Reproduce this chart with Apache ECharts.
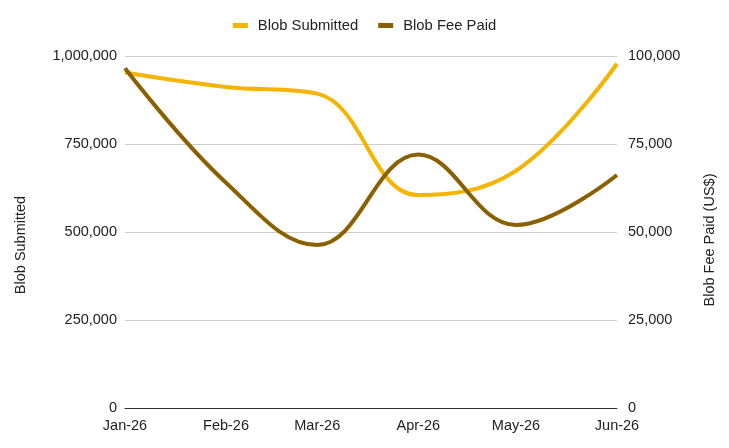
<!DOCTYPE html>
<html>
<head>
<meta charset="utf-8">
<script src="https://cdn.jsdelivr.net/npm/echarts@6/dist/echarts.min.js"></script>
<style>
html,body{margin:0;padding:0;background:#fff;}
#c{width:729px;height:448px;}
</style>
</head>
<body>
<div id="c"></div>
<script>
var months = ['Jan-26','Feb-26','Mar-26','Apr-26','May-26','Jun-26'];
var monthIndex = [0,1,2,3,4,5];
var blobSubmitted = [953000, 912000, 893000, 605000, 674000, 978000];
var blobFeePaid = [96500, 64000, 46300, 72000, 52000, 66200];
var leftTicks = [0, 250000, 500000, 750000, 1000000];
var rightTicks = [0, 25000, 50000, 75000, 100000];

var DAY = 86400000;
var t0 = Date.UTC(2026, 0, 1);
var days = monthIndex.map(function(m){ return Math.round((Date.UTC(2026, m, 1) - t0) / DAY); });
function pairs(vals){ return vals.map(function(v,i){ return [days[i], v]; }); }
function fmtNum(v){ return String(Math.round(v)).replace(/\B(?=(\d{3})+(?!\d))/g, ','); }
function fmtMonth(v){
  var idx = days.indexOf(Math.round(v));
  return idx >= 0 ? months[idx] : '';
}
var font = 'Arial, "Liberation Sans", sans-serif';
var fs = 14.5;
var chart = echarts.init(document.getElementById('c'));
chart.setOption({
  animation: false,
  textStyle: { fontFamily: font },
  legend: {
    top: 13, left: 'center', itemWidth: 15, itemHeight: 5, itemGap: 20,
    icon: 'rect',
    textStyle: { fontSize: 14.8, color: '#222', fontFamily: font, padding: [0, 0, 0, 5] },
    data: ['Blob Submitted', 'Blob Fee Paid']
  },
  grid: { left: 125, right: 112, top: 56, bottom: 40 },
  xAxis: {
    type: 'value',
    min: days[0], max: days[days.length-1],
    axisLine: { show: true, onZero: false, lineStyle: { color: '#333', width: 1 } },
    axisTick: { show: false },
    splitLine: { show: false },
    axisLabel: {
      customValues: days,
      formatter: fmtMonth,
      color: '#222', fontSize: fs, margin: 10, fontFamily: font,
      showMinLabel: true, showMaxLabel: true
    }
  },
  yAxis: [
    {
      type: 'value', min: 0, max: 1000000, interval: 250000,
      name: 'Blob Submitted', nameLocation: 'middle', nameGap: 97,
      nameTextStyle: { fontSize: fs, color: '#222', fontFamily: font, padding: [0, 26, 0, 0] },
      axisLine: { show: false }, axisTick: { show: false },
      splitLine: { show: true, lineStyle: { color: '#cccccc', width: 1 } },
      axisLabel: { formatter: fmtNum, color: '#222', fontSize: fs, margin: 8, fontFamily: font }
    },
    {
      type: 'value', min: 0, max: 100000, interval: 25000,
      name: 'Blob Fee Paid (US$)', nameLocation: 'middle', nameGap: 85,
      nameTextStyle: { fontSize: fs, color: '#222', fontFamily: font, padding: [0, 16, 0, 0] },
      axisLine: { show: false }, axisTick: { show: false },
      splitLine: { show: false },
      axisLabel: { formatter: fmtNum, color: '#222', fontSize: fs, margin: 11, fontFamily: font }
    }
  ],
  series: [
    {
      name: 'Blob Submitted', type: 'line', yAxisIndex: 0,
      data: pairs(blobSubmitted), smooth: 0.4, showSymbol: false, symbol: 'none',
      lineStyle: { color: '#F4B400', width: 4 }, itemStyle: { color: '#F4B400' }, z: 2
    },
    {
      name: 'Blob Fee Paid', type: 'line', yAxisIndex: 1,
      data: pairs(blobFeePaid), smooth: 0.4, showSymbol: false, symbol: 'none',
      lineStyle: { color: '#8A6000', width: 4 }, itemStyle: { color: '#8A6000' }, z: 3
    }
  ]
});
</script>
</body>
</html>
